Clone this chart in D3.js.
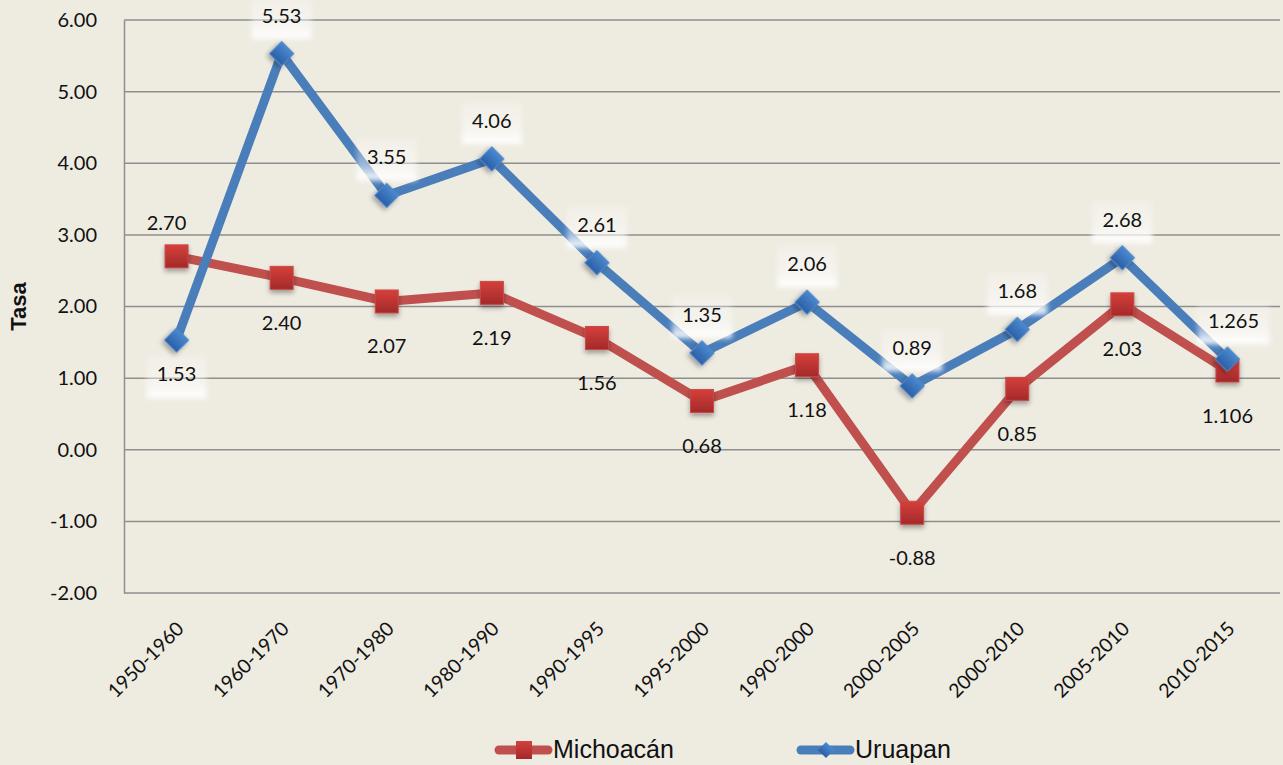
<!DOCTYPE html>
<html lang="es">
<head>
<meta charset="UTF-8">
<script src="https://d3js.org/d3.v7.min.js"></script>
<style>
  body { margin: 0; background: #eeebe1; }
  svg { display: block; }
  .tick-label { font-family: Lato, "Open Sans", sans-serif; font-size: 20px; fill: #111; }
  .x-label { font-size: 19.5px; }
  .data-label { font-family: Lato, "Open Sans", sans-serif; font-size: 20px; fill: #111; }
</style>
</head>
<body>
<div id="chart"></div>
<script>
// Data
const periods = ["1950-1960", "1960-1970", "1970-1980", "1980-1990", "1990-1995", "1995-2000",
                 "1990-2000", "2000-2005", "2000-2010", "2005-2010", "2010-2015"];
const michoacan = [2.70, 2.40, 2.07, 2.19, 1.56, 0.68, 1.18, -0.88, 0.85, 2.03, 1.106];
const uruapan = [1.53, 5.53, 3.55, 4.06, 2.61, 1.35, 2.06, 0.89, 1.68, 2.68, 1.265];
const michoacanLabels = ["2.70", "2.40", "2.07", "2.19", "1.56", "0.68", "1.18", "-0.88", "0.85", "2.03", "1.106"];
const uruapanLabels = ["1.53", "5.53", "3.55", "4.06", "2.61", "1.35", "2.06", "0.89", "1.68", "2.68", "1.265"];
const yTicks = [-2, -1, 0, 1, 2, 3, 4, 5, 6];

const width = 1283, height = 765;
const margin = { top: 20, right: 3, bottom: 172, left: 124 };

const svg = d3.select("#chart").append("svg")
  .attr("width", width)
  .attr("height", height);

const defs = svg.append("defs");

// marker gradients and shadow
const redGrad = defs.append("linearGradient").attr("id", "redGrad").attr("x1", 0).attr("y1", 0).attr("x2", 0).attr("y2", 1);
redGrad.append("stop").attr("offset", "0%").attr("stop-color", "#d5403b");
redGrad.append("stop").attr("offset", "100%").attr("stop-color", "#a3292a");
const blueGrad = defs.append("linearGradient").attr("id", "blueGrad").attr("x1", 0).attr("y1", 0).attr("x2", 0).attr("y2", 1);
blueGrad.append("stop").attr("offset", "0%").attr("stop-color", "#4a8ad0");
blueGrad.append("stop").attr("offset", "100%").attr("stop-color", "#2b5fa6");

const shadow = defs.append("filter").attr("id", "shadow").attr("x", "-50%").attr("y", "-50%").attr("width", "200%").attr("height", "200%");
shadow.append("feDropShadow").attr("dx", 0).attr("dy", 3).attr("stdDeviation", 2.5)
  .attr("flood-color", "#000").attr("flood-opacity", 0.35);

const glowGrad = defs.append("linearGradient").attr("id", "glowGrad").attr("x1", 0).attr("y1", 0).attr("x2", 0).attr("y2", 1);
glowGrad.append("stop").attr("offset", "0%").attr("stop-color", "#fff").attr("stop-opacity", 0.2);
glowGrad.append("stop").attr("offset", "65%").attr("stop-color", "#fff").attr("stop-opacity", 0.45);
glowGrad.append("stop").attr("offset", "100%").attr("stop-color", "#fff").attr("stop-opacity", 1);
const blur = defs.append("filter").attr("id", "blur").attr("x", "-30%").attr("y", "-30%").attr("width", "160%").attr("height", "160%");
blur.append("feGaussianBlur").attr("stdDeviation", 2.5);

// Scales
const x = d3.scalePoint()
  .domain(periods)
  .range([margin.left, width - margin.right])
  .padding(0.5);

const y = d3.scaleLinear()
  .domain([-2, 6])
  .range([height - margin.bottom, margin.top]);

// Gridlines
svg.append("g")
  .selectAll("line")
  .data(yTicks)
  .join("line")
  .attr("x1", margin.left)
  .attr("x2", width - margin.right)
  .attr("y1", d => y(d))
  .attr("y2", d => y(d))
  .attr("stroke", "#8e8e8e")
  .attr("stroke-width", 1.5);

// Y axis (plain hyphen for negatives, like the original)
const yFormat = d => d3.format(".2f")(d).replace("\u2212", "-");
const yAxis = svg.append("g")
  .attr("transform", `translate(${margin.left},0)`)
  .call(d3.axisLeft(y).tickValues(yTicks).tickFormat(yFormat).tickSize(0).tickPadding(27));
yAxis.select(".domain").attr("stroke", "#8e8e8e").attr("stroke-width", 1.5);
yAxis.selectAll("text").attr("class", "tick-label").attr("font-family", null).attr("font-size", null);

// X axis labels
const xAxis = svg.append("g")
  .attr("transform", `translate(0,${y(-2)})`)
  .call(d3.axisBottom(x).tickSize(0));
xAxis.select(".domain").remove();
xAxis.selectAll("text")
  .attr("class", "tick-label x-label")
  .attr("font-family", null).attr("font-size", null)
  .attr("text-anchor", "end")
  .attr("y", 0).attr("dy", 0)
  .attr("transform", "translate(8,37) rotate(-45)");

// Y title
svg.append("text")
  .attr("transform", `translate(26,${y(2)}) rotate(-90)`)
  .attr("text-anchor", "middle")
  .attr("font-family", "Liberation Sans, Arial, sans-serif")
  .attr("font-weight", "bold")
  .attr("font-size", 22)
  .attr("fill", "#111")
  .text("Tasa");

const line = d3.line()
  .x((d, i) => x(periods[i]))
  .y(d => y(d));

// Lines
svg.append("path").datum(michoacan).attr("d", line)
  .attr("fill", "none").attr("stroke", "#c0504d").attr("stroke-width", 9).attr("stroke-linejoin", "round");
svg.append("path").datum(uruapan).attr("d", line)
  .attr("fill", "none").attr("stroke", "#4a7ebb").attr("stroke-width", 9).attr("stroke-linejoin", "round");

// Markers
svg.append("g").selectAll("rect")
  .data(michoacan)
  .join("rect")
  .attr("x", (d, i) => x(periods[i]) - 11.5)
  .attr("y", d => y(d) - 11.5)
  .attr("width", 23).attr("height", 23)
  .attr("fill", "url(#redGrad)")
  .attr("stroke", "#c94a46").attr("stroke-width", 1)
  .attr("filter", "url(#shadow)");

// Uruapan label boxes (white glow), drawn before diamonds
const uruBelow = [true, false, false, false, false, false, false, false, false, false, false];
const uruOffsetX = [0, 0, 0, 0, 0, 0, 0, 0, 0, 0, 6];
const boxG = svg.append("g").attr("filter", "url(#blur)");
boxG.selectAll("rect")
  .data(uruapan)
  .join("rect")
  .attr("x", (d, i) => x(periods[i]) + uruOffsetX[i] - (uruapanLabels[i].length > 4 ? 36 : 30))
  .attr("y", (d, i) => uruBelow[i] ? y(d) + 16 : y(d) - 57)
  .attr("width", (d, i) => uruapanLabels[i].length > 4 ? 72 : 60)
  .attr("height", 42)
  .attr("fill", "url(#glowGrad)");

svg.append("g").selectAll("path")
  .data(uruapan)
  .join("path")
  .attr("d", d3.symbol().type(d3.symbolSquare).size(300))
  .attr("transform", (d, i) => `translate(${x(periods[i])},${y(d)}) rotate(45)`)
  .attr("fill", "url(#blueGrad)")
  .attr("stroke", "#4f86c6").attr("stroke-width", 1)
  .attr("filter", "url(#shadow)");

// Data labels
const micAbove = [true, false, false, false, false, false, false, false, false, false, false];
const micOffsetX = [-10, 0, 0, 0, 0, 0, 0, 0, 0, 0, 0];
svg.append("g").selectAll("text")
  .data(michoacan)
  .join("text")
  .attr("class", "data-label")
  .attr("text-anchor", "middle")
  .attr("x", (d, i) => x(periods[i]) + micOffsetX[i])
  .attr("y", (d, i) => micAbove[i] ? y(d) - 26 : y(d) + 52)
  .text((d, i) => michoacanLabels[i]);

svg.append("g").selectAll("text")
  .data(uruapan)
  .join("text")
  .attr("class", "data-label")
  .attr("text-anchor", "middle")
  .attr("x", (d, i) => x(periods[i]) + uruOffsetX[i])
  .attr("y", (d, i) => uruBelow[i] ? y(d) + 41 : y(d) - 31)
  .text((d, i) => uruapanLabels[i]);

// Legend
const legend = svg.append("g").attr("transform", "translate(0,750)");
const legendItems = [
  { name: "Michoacán", x: 495, color: "#c0504d", marker: "square" },
  { name: "Uruapan", x: 797, color: "#4a7ebb", marker: "diamond" }
];
const li = legend.selectAll("g").data(legendItems).join("g")
  .attr("transform", d => `translate(${d.x},0)`);
li.append("line")
  .attr("x1", 4).attr("x2", 53).attr("y1", 0).attr("y2", 0)
  .attr("stroke", d => d.color).attr("stroke-width", 9).attr("stroke-linecap", "round");
li.filter(d => d.marker === "square").append("rect")
  .attr("x", 21).attr("y", -9).attr("width", 16).attr("height", 18)
  .attr("fill", "url(#redGrad)");
li.filter(d => d.marker === "diamond").append("path")
  .attr("d", d3.symbol().type(d3.symbolSquare).size(130))
  .attr("transform", "translate(29,0) rotate(45)")
  .attr("fill", "url(#blueGrad)");
li.append("text")
  .attr("x", 58).attr("y", 8)
  .attr("font-family", "Liberation Sans, Arial, sans-serif")
  .attr("font-size", 25)
  .attr("fill", "#111")
  .text(d => d.name);
</script>
</body>
</html>
